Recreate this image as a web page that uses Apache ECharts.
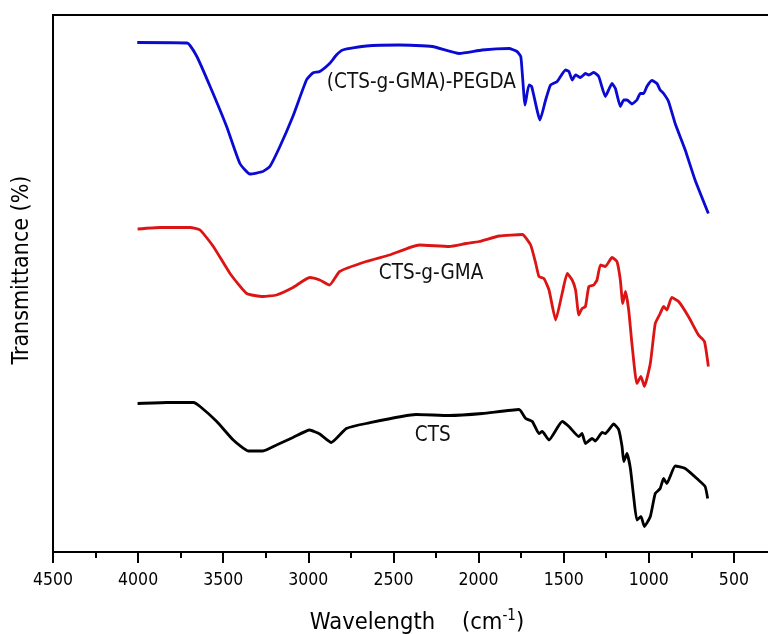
<!DOCTYPE html>
<html>
<head>
<meta charset="utf-8">
<script src="https://cdn.jsdelivr.net/npm/echarts@6/dist/echarts.min.js"></script>
<style>html,body{margin:0;padding:0;background:#fff;overflow:hidden;width:768px;height:634px;}#c{width:822px;height:634px;}</style>
</head>
<body>
<div id="c"></div>
<script>
// Wavenumber (cm-1) values
const pegdaX = [4005,3712,3655,3577,3480,3402,3343,3267,3226,3167,3091,3011,2974,2933,2875,2835,2798,2660,2465,2272,2113,1979,1821,1774,1752,1743,1727,1704,1688,1639,1606,1577,1538,1489,1469,1450,1430,1401,1372,1352,1323,1294,1255,1216,1196,1167,1147,1128,1099,1070,1050,1030,1011,982,952,933,913,884,845,786,728,650];
const pegdaY = [101.3,101.2,98.5,92.5,84.5,77.1,75.0,75.5,76.5,80.5,86.5,93.8,95.2,95.5,97.1,98.8,99.8,100.6,100.8,100.5,99.1,99.8,100.1,99.5,98.5,95.1,88.8,92.8,92.5,85.8,89.8,92.8,93.5,95.8,95.5,93.8,94.8,94.3,95.1,94.8,95.3,94.5,90.5,93.1,92.1,88.5,89.8,89.8,89.0,89.8,91.1,91.1,92.5,93.7,93.1,91.8,91.1,89.5,85.1,79.8,73.8,67.1];

const gmaX = [4003,3870,3694,3636,3558,3460,3362,3267,3187,3090,2992,2933,2875,2816,2660,2523,2348,2172,2074,1996,1879,1743,1694,1664,1645,1616,1586,1547,1509,1479,1450,1430,1411,1392,1372,1352,1323,1304,1284,1255,1216,1187,1167,1153,1137,1118,1099,1070,1046,1026,991,962,933,913,894,865,825,767,708,673,650];
const gmaY = [64.0,64.3,64.3,63.8,60.5,55.1,51.1,50.5,50.8,52.3,54.3,53.8,52.8,55.5,57.5,58.8,60.8,60.5,61.1,61.5,62.6,62.9,60.8,57.1,54.5,54.1,51.8,45.8,51.1,55.1,53.8,51.8,46.8,48.1,48.5,52.5,52.8,53.8,56.8,56.5,58.3,57.5,53.8,49.1,51.5,47.8,41.1,33.1,34.5,32.5,37.1,45.1,47.1,48.5,47.8,50.3,49.5,46.5,42.8,41.5,36.5];

const ctsX = [4003,3831,3675,3636,3538,3441,3353,3267,3187,3090,2992,2933,2865,2777,2660,2367,2172,1977,1762,1723,1684,1645,1626,1586,1509,1469,1411,1392,1372,1333,1313,1274,1255,1206,1177,1157,1147,1128,1108,1089,1070,1046,1026,991,962,933,913,894,845,786,708,669,654];
const ctsY = [29.1,29.3,29.3,28.5,25.5,21.8,19.6,19.6,20.8,22.3,23.8,23.0,21.3,24.1,25.1,26.9,26.7,27.1,27.9,26.1,25.5,23.1,23.5,21.8,25.5,24.5,22.5,23.1,21.1,22.1,21.6,23.3,23.1,25.0,23.9,20.5,17.5,19.1,16.1,10.5,5.8,6.5,4.5,6.5,11.1,12.1,14.1,13.1,16.6,16.1,13.8,12.5,10.1];

const seriesNames = ['(CTS-g-GMA)-PEGDA','CTS-g-GMA','CTS'];
const labelPos = [[2336,93.2],[2279,55.0],[2269,22.7]];
const xTicks = [4500,4000,3500,3000,2500,2000,1500,1000,500];

const FONT = "'DejaVu Sans Condensed','DejaVu Sans',Tahoma,sans-serif";
function zip(a,b){return a.map((v,i)=>[v,b[i]]);}
const colors = ['#0a0ad2','#dc1414','#000000'];
const datas = [zip(pegdaX,pegdaY), zip(gmaX,gmaY), zip(ctsX,ctsY)];

const chart = echarts.init(document.getElementById('c'), null, {renderer:'canvas'});
chart.setOption({
  animation:false,
  backgroundColor:'#fff',
  grid:{left:53,top:15,right:0.4,bottom:82,show:true,borderColor:'#000',borderWidth:2,backgroundColor:'transparent'},
  xAxis:{type:'value',min:0,max:4500,interval:500,inverse:true,
    axisLine:{show:true,onZero:false,lineStyle:{color:'#000',width:2}},
    axisTick:{show:true,inside:false,length:11,lineStyle:{color:'#000',width:2}},
    minorTick:{show:true,splitNumber:2,length:6,lineStyle:{color:'#000',width:2}},
    splitLine:{show:false},
    axisLabel:{fontFamily:FONT,fontSize:17.5,color:'#000',margin:19,
      formatter:v=>xTicks.indexOf(v)>=0?String(v):''}
  },
  yAxis:{type:'value',min:-0.6,max:106.8,
    axisLine:{show:true,lineStyle:{color:'#000',width:2}},
    axisTick:{show:false},axisLabel:{show:false},splitLine:{show:false}},
  series: datas.map((d,i)=>({
    type:'line',name:seriesNames[i],data:d,showSymbol:false,smooth:0.15,
    lineStyle:{color:colors[i],width:2.8},
    markPoint:{symbol:'circle',symbolSize:1,itemStyle:{color:'rgba(0,0,0,0)'},
      label:{show:true,position:'inside',formatter:seriesNames[i],fontFamily:FONT,fontSize:20.5,color:'#111'},
      data:[{coord:labelPos[i]}]}
  })),
  graphic:[
    {type:'text',x:417,y:609,style:{
      text:'Wavelength    (cm{sup|-1})',align:'center',verticalAlign:'top',fontFamily:FONT,fontSize:23.5,fill:'#000',
      rich:{sup:{fontFamily:FONT,fontSize:15,verticalAlign:'top',padding:[0,0,12,0]}}}},
    {type:'text',x:11,y:270,rotation:Math.PI/2,style:{
      text:'Transmittance (%)',fontFamily:FONT,fontSize:23,fill:'#000',align:'center',verticalAlign:'top'}}
  ]
});
</script>
</body>
</html>
